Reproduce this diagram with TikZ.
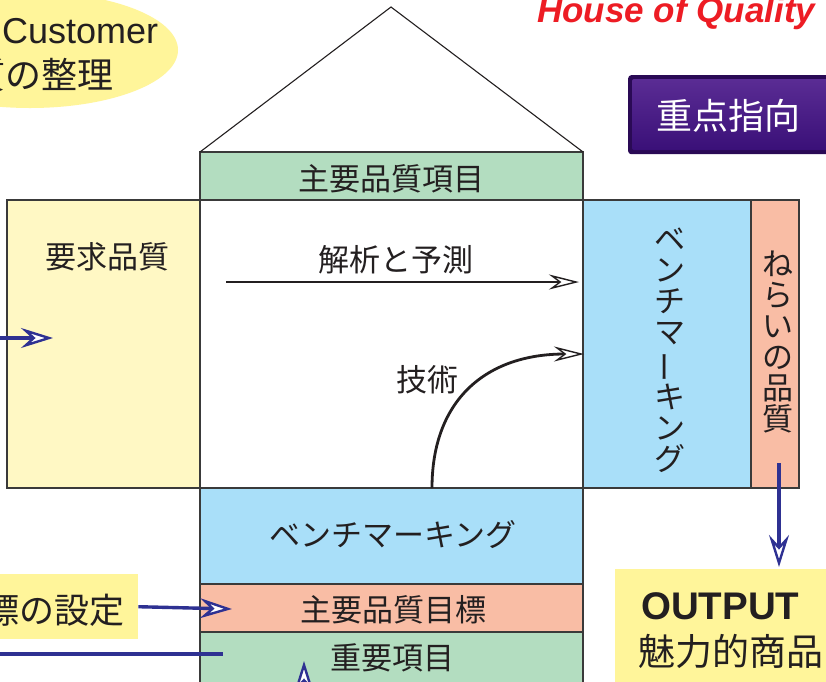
\documentclass[tikz,border=0pt]{standalone}
\usepackage{fontspec}
\usepackage{graphicx}
\setmainfont{Liberation Sans}
\newfontfamily\jp{Noto Sans CJK JP}
\usetikzlibrary{arrows.meta}
\definecolor{ink}{HTML}{231F20}
\definecolor{edge}{HTML}{3A3A3A}
\definecolor{reqyel}{HTML}{FFF8C4}
\definecolor{lblyel}{HTML}{FFF59A}
\definecolor{qgreen}{HTML}{B3DDC0}
\definecolor{qblue}{HTML}{A9DFF9}
\definecolor{qsalmon}{HTML}{F9BDA5}
\definecolor{navy}{HTML}{2E3192}
\definecolor{hqred}{HTML}{ED1C24}
\definecolor{purpA}{HTML}{2A0A55}
\definecolor{purpB}{HTML}{5A2C94}
\definecolor{purpC}{HTML}{3A1078}
\tikzset{
  cell/.style={draw=edge, line width=1.6pt, inner sep=0, outer sep=0},
  jtxt/.style={font=\jp\fontsize{31}{31}\selectfont, text=ink, inner sep=0},
  barrow/.style={draw=navy, line width=3.4pt, -{Stealth[open, length=32pt, width=20pt, inset=11pt, line width=2.4pt, fill=white]}},
  karrow/.style={draw=ink, line width=2.8pt, -{Stealth[open, length=30pt, width=15pt, inset=10pt, line width=1.4pt, fill=white]}},
  bline/.style={draw=navy, line width=3.4pt}
}
\begin{document}
\begin{tikzpicture}[x=1pt,y=-1pt]
\useasboundingbox (0,0) rectangle (826,681);
\clip (0,0) rectangle (826,681);
\fill[white] (0,0) rectangle (826,681);

% ellipse label top left
\fill[lblyel] (30,50) ellipse [x radius=148, y radius=58];
\node[anchor=base west, inner sep=0, text=ink, font=\fontsize{36}{36}\selectfont] (cust) at (2,43) {Customer};
\node[anchor=east, inner sep=0, text=ink, font=\jp\fontsize{36}{36}\selectfont] (seiri) at (114,75) {質の整理};

% title
\node[anchor=base west, inner sep=0, text=hqred, font=\bfseries\itshape\fontsize{35}{35}\selectfont] (title) at (537,22) {House of Quality};

% focus box
\node[fill=purpA, rounded corners=3pt, minimum width=220, minimum height=79, anchor=north west, inner sep=0] (focus) at (628,75) {};
\shade[top color=purpB, bottom color=purpC, rounded corners=2pt] (632,79) rectangle (840,150);
\node[inner sep=0, text=white, font=\jp\fontsize{36}{36}\selectfont] (focustxt) at (728,116) {重点指向};

% roof
\coordinate (apex) at (391,7);
\node[cell, fill=qgreen, minimum width=383, minimum height=48, anchor=north west] (hows) at (200,152) {};
\draw[draw=ink, line width=1.1pt] (hows.north west) -- (apex) -- (hows.north east);
\node[jtxt] (howst) at (391.5,179) {主要品質項目};

% requirements
\node[cell, fill=reqyel, minimum width=193, minimum height=288, anchor=north west] (req) at (7,200) {};
\node[jtxt] (reqt) at (107,257) {要求品質};

% center
\node[cell, fill=white, minimum width=383, minimum height=288, anchor=north west] (center) at (200,200) {};

% benchmark column
\node[cell, fill=qblue, minimum width=168, minimum height=288, anchor=north west] (bench) at (583,200) {};
\node[jtxt, align=center] (bencht) at (670,350) {ベ\\ン\\チ\\マ\\\rotatebox[origin=c]{90}{ー}\\キ\\ン\\グ};

% aim column
\node[cell, fill=qsalmon, minimum width=48, minimum height=288, anchor=north west] (aim) at (751,200) {};
\node[jtxt, align=center] (aimt) at (778,342) {ね\\ら\\い\\の\\品\\質};

% bottom bands
\node[cell, fill=qblue, minimum width=383, minimum height=96, anchor=north west] (bbench) at (200,488) {};
\node[jtxt] (bbencht) at (393,535) {ベンチマーキング};
\node[cell, fill=qsalmon, minimum width=383, minimum height=48, anchor=north west] (target) at (200,584) {};
\node[jtxt] (targett) at (393,610) {主要品質目標};
\node[cell, fill=qgreen, minimum width=383, minimum height=56, anchor=north west] (imp) at (200,632) {};
\node[jtxt] (impt) at (392,658) {重要項目};

% inner arrows
\node[jtxt] (anal) at (396,260) {解析と予測};
\coordinate (anA) at (226,282);
\coordinate (anB) at (579,282);
\draw[karrow] (anA) -- (anB);
\node[jtxt] (tech) at (427,380) {技術};
\coordinate (teA) at (432,488);
\coordinate (teB) at (584,354);
\draw[karrow] (teA) .. controls (432,400) and (486,354) .. (teB);

% goal box
\node[fill=lblyel, minimum width=139, minimum height=65, anchor=north west, inner sep=0] (goal) at (-1,574) {};
\node[anchor=east, inner sep=0, text=ink, font=\jp\fontsize{35}{35}\selectfont] (goalt) at (125,610) {目標の設定};
\coordinate (goalB) at (232,609);
\draw[barrow] (goal.east) -- (goalB);

% output box
\node[fill=lblyel, minimum width=230, minimum height=130, anchor=north west, inner sep=0] (out) at (615,569) {};
\node[anchor=base west, inner sep=0, text=ink, font=\bfseries\fontsize{38.5}{38.5}\selectfont] (outt) at (641,619) {OUTPUT};
\node[anchor=west, inner sep=0, text=ink, font=\jp\fontsize{37}{37}\selectfont] (outj) at (638,651) {魅力的商品};

% blue arrows
\coordinate (inA) at (0,338);
\coordinate (inB) at (53,338);
\draw[barrow] (inA) -- (inB);
\coordinate (aimA) at (779,463);
\coordinate (aimB) at (779,567);
\draw[barrow] (aimA) -- (aimB);
\coordinate (upA) at (304,710);
\coordinate (upB) at (304,661);
\draw[barrow] (upA) -- (upB);
\coordinate (lnA) at (0,654);
\coordinate (lnB) at (223,654);
\draw[bline] (lnA) -- (lnB);
\end{tikzpicture}
\end{document}
